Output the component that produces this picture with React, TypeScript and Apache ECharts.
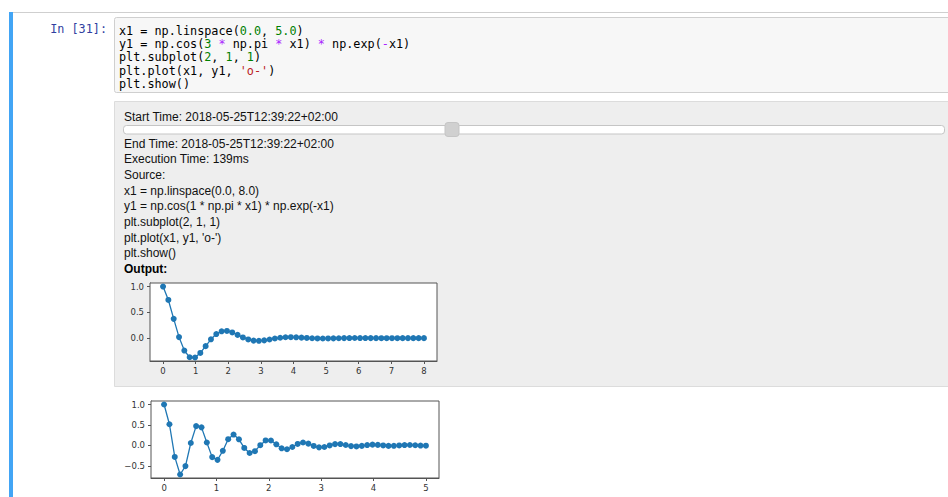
import React, { useEffect, useRef } from "react";
import * as echarts from "echarts";

// ---- data ----
const x1Top = [0, 0.163, 0.327, 0.49, 0.653, 0.816, 0.98, 1.143, 1.306, 1.469, 1.633, 1.796, 1.959, 2.122, 2.286, 2.449, 2.612, 2.776, 2.939, 3.102, 3.265, 3.429, 3.592, 3.755, 3.918, 4.082, 4.245, 4.408, 4.571, 4.735, 4.898, 5.061, 5.224, 5.388, 5.551, 5.714, 5.878, 6.041, 6.204, 6.367, 6.531, 6.694, 6.857, 7.02, 7.184, 7.347, 7.51, 7.673, 7.837, 8.0];
const y1Top = [1.0, 0.74, 0.374, 0.02, -0.241, -0.37, -0.375, -0.287, -0.155, -0.022, 0.079, 0.132, 0.14, 0.111, 0.063, 0.014, -0.025, -0.048, -0.052, -0.043, -0.026, -0.007, 0.008, 0.017, 0.019, 0.016, 0.01, 0.004, -0.002, -0.006, -0.007, -0.006, -0.004, -0.002, 0.001, 0.002, 0.003, 0.002, 0.002, 0.001, 0.0, -0.001, -0.001, -0.001, -0.001, 0.0, 0.0, 0.0, 0.0, 0.0];
const x1Bottom = [0, 0.102, 0.204, 0.306, 0.408, 0.51, 0.612, 0.714, 0.816, 0.918, 1.02, 1.122, 1.224, 1.327, 1.429, 1.531, 1.633, 1.735, 1.837, 1.939, 2.041, 2.143, 2.245, 2.347, 2.449, 2.551, 2.653, 2.755, 2.857, 2.959, 3.061, 3.163, 3.265, 3.367, 3.469, 3.571, 3.673, 3.776, 3.878, 3.98, 4.082, 4.184, 4.286, 4.388, 4.49, 4.592, 4.694, 4.796, 4.898, 5.0];
const y1Bottom = [1.0, 0.517, -0.282, -0.713, -0.507, 0.058, 0.472, 0.441, 0.071, -0.287, -0.354, -0.132, 0.152, 0.265, 0.149, -0.062, -0.186, -0.142, 0.005, 0.121, 0.12, 0.026, -0.071, -0.095, -0.04, 0.036, 0.07, 0.043, -0.013, -0.048, -0.039, -0.001, 0.031, 0.033, 0.009, -0.018, -0.025, -0.012, 0.008, 0.018, 0.012, -0.002, -0.012, -0.011, -0.001, 0.008, 0.009, 0.003, -0.004, -0.007];

const xTicksTop = [0, 1, 2, 3, 4, 5, 6, 7, 8];
const yTicksTop = [0, 0.5, 1.0];
const xTicksBottom = [0, 1, 2, 3, 4, 5];
const yTicksBottom = [-0.5, 0, 0.5, 1.0];

const promptText = "In [31]:";
const outputLines = [
  "End Time: 2018-05-25T12:39:22+02:00",
  "Execution Time: 139ms",
  "Source:",
  "x1 = np.linspace(0.0, 8.0)",
  "y1 = np.cos(1 * np.pi * x1) * np.exp(-x1)",
  "plt.subplot(2, 1, 1)",
  "plt.plot(x1, y1, 'o-')",
  "plt.show()",
];
const startLine = "Start Time: 2018-05-25T12:39:22+02:00";
const codeLines = [
  "{n|x1 = np.linspace(}{g|0.0}{n|, }{g|5.0}{n|)}",
  "{n|y1 = np.cos(}{g|3}{n| }{p|*}{n| np.pi }{p|*}{n| x1) }{p|*}{n| np.exp(}{p|-}{n|x1)}",
  "{n|plt.subplot(}{g|2}{n|, }{g|1}{n|, }{g|1}{n|)}",
  "{n|plt.plot(x1, y1, }{r|'o-'}{n|)}",
  "{n|plt.show()}",
];

const BLUE = "#1f77b4";
const MONO = "DejaVu Sans Mono";
const SANS = "Liberation Sans";

const fmtY = (v: number) => (v < 0 ? "\u2212" + Math.abs(v).toFixed(1) : v.toFixed(1));

function axisPair(gridIndex: number, xmin: number, xmax: number, ymin: number, ymax: number, xt: number[], yt: number[]) {
  const lineStyle = { color: "#555", width: 1 };
  const label = { color: "#333", fontSize: 8.5, fontFamily: "DejaVu Sans" };
  return {
    x: {
      type: "value", gridIndex, min: xmin, max: xmax,
      axisLine: { show: true, onZero: false, lineStyle },
      axisTick: { show: true, inside: false, length: 3, lineStyle, customValues: xt },
      axisLabel: { ...label, margin: 5, customValues: xt, formatter: (v: number) => String(v) },
      splitLine: { show: false },
    },
    y: {
      type: "value", gridIndex, min: ymin, max: ymax,
      axisLine: { show: true, onZero: false, lineStyle },
      axisTick: { show: true, inside: false, length: 3, lineStyle, customValues: yt },
      axisLabel: { ...label, margin: 6, customValues: yt, formatter: fmtY },
      splitLine: { show: false },
    },
  };
}

export default function App() {
  const ref = useRef<HTMLDivElement>(null);
  useEffect(() => {
    if (!ref.current) return;
    const chart = echarts.init(ref.current, undefined, { renderer: "svg" });
    const a1 = axisPair(0, -0.4, 8.4, -0.443, 1.069, xTicksTop, yTicksTop);
    const a2 = axisPair(1, -0.25, 5.25, -0.798, 1.086, xTicksBottom, yTicksBottom);

    const richBase = { fontFamily: MONO, fontSize: 11.8 };
    const graphics: any[] = [
      { type: "line", z: -5, shape: { x1: 9, y1: 12.5, x2: 948, y2: 12.5 }, style: { stroke: "#cfcfcf", lineWidth: 1 } },
      { type: "rect", z: -4, shape: { x: 9, y: 12, width: 4, height: 490 }, style: { fill: "#42A5F5" } },
      { type: "rect", z: -5, shape: { x: 114.5, y: 17.5, width: 850, height: 75, r: 2 }, style: { fill: "#f7f7f7", stroke: "#cfcfcf", lineWidth: 1 } },
      { type: "text", z: -3, style: { text: promptText, x: 107, y: 28.5, align: "right", verticalAlign: "middle", fontFamily: MONO, fontSize: 11.8, fill: "#303F9F" } },
      ...codeLines.map((t, i) => ({
        type: "text", z: -3,
        style: {
          text: t, x: 119, y: 30.5 + i * 13.4, align: "left", verticalAlign: "middle",
          fontFamily: MONO, fontSize: 11.8, fill: "#000",
          rich: {
            n: { ...richBase, fill: "#000" },
            g: { ...richBase, fill: "#008000" },
            p: { ...richBase, fill: "#AA22FF" },
            r: { ...richBase, fill: "#BA2121" },
          },
        },
      })),
      { type: "rect", z: -5, shape: { x: 114.5, y: 101.5, width: 850, height: 285 }, style: { fill: "#eeeeee", stroke: "#dcdcdc", lineWidth: 1 } },
      { type: "text", z: -3, style: { text: startLine, x: 124, y: 117, align: "left", verticalAlign: "middle", fontFamily: SANS, fontSize: 12, fill: "#111" } },
      { type: "rect", z: -3, shape: { x: 123.5, y: 125.5, width: 821, height: 8.5, r: 3 }, style: { fill: "#ffffff", stroke: "#c5c5c5", lineWidth: 1 } },
      { type: "rect", z: -2, shape: { x: 445, y: 122.5, width: 14, height: 14, r: 3 }, style: { fill: "#d0d0d0", stroke: "#c5c5c5", lineWidth: 1 } },
      ...outputLines.map((t, i) => ({
        type: "text", z: -3,
        style: { text: t, x: 124, y: 143.5 + i * 15.7, align: "left", verticalAlign: "middle", fontFamily: SANS, fontSize: 12, fill: "#111" },
      })),
      { type: "text", z: -3, style: { text: "Output:", x: 124, y: 269, align: "left", verticalAlign: "middle", fontFamily: SANS, fontSize: 12, fontWeight: "bold", fill: "#000" } },
    ];

    chart.setOption({
      animation: false,
      backgroundColor: "#ffffff",
      graphic: { elements: graphics },
      grid: [
        { left: 150, top: 283, width: 287, height: 78, show: true, backgroundColor: "#ffffff", borderColor: "#555", borderWidth: 1, z: 1 },
        { left: 151, top: 401, width: 288, height: 77, show: true, backgroundColor: "#ffffff", borderColor: "#555", borderWidth: 1, z: 1 },
      ],
      xAxis: [a1.x, a2.x],
      yAxis: [a1.y, a2.y],
      series: [
        {
          type: "line", xAxisIndex: 0, yAxisIndex: 0,
          data: x1Top.map((x, i) => [x, y1Top[i]]),
          symbol: "circle", symbolSize: 6, showAllSymbol: true,
          lineStyle: { color: BLUE, width: 1.3 }, itemStyle: { color: BLUE },
        },
        {
          type: "line", xAxisIndex: 1, yAxisIndex: 1,
          data: x1Bottom.map((x, i) => [x, y1Bottom[i]]),
          symbol: "circle", symbolSize: 6, showAllSymbol: true,
          lineStyle: { color: BLUE, width: 1.3 }, itemStyle: { color: BLUE },
        },
      ],
    });
    return () => chart.dispose();
  }, []);
  return <div ref={ref} style={{ position: "absolute", left: 0, top: 0, width: 948, height: 497 }} />;
}
